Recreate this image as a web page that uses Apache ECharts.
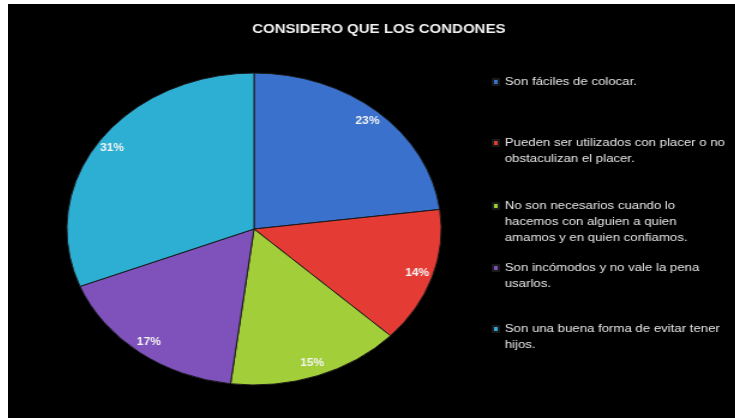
<!DOCTYPE html>
<html><head><meta charset="utf-8">
<script src="https://cdn.jsdelivr.net/npm/echarts@6/dist/echarts.min.js"></script>
<style>
html,body{margin:0;padding:0;background:#ffffff;width:735px;height:418px;overflow:hidden}
#wrap{position:absolute;left:8px;top:4px;width:606px;height:414px;transform:scaleX(1.2);transform-origin:0 0;}
#chart{width:606px;height:414px;}
</style></head><body><div id="wrap"><div id="chart"></div></div>
<script>
const chartTitle = 'CONSIDERO QUE LOS CONDONES';
const categories = [
  'Son fáciles de colocar.',
  'Pueden ser utilizados con placer o no obstaculizan el placer.',
  'No son necesarios cuando lo hacemos con alguien a quien amamos y en quien confiamos.',
  'Son incómodos y no vale la pena usarlos.',
  'Son una buena forma de evitar tener hijos.'
];
const values = [23, 14, 15, 17, 31];
const legendLines = [
  ['Son fáciles de colocar.'],
  ['Pueden ser utilizados con placer o no', 'obstaculizan el placer.'],
  ['No son necesarios cuando lo', 'hacemos con alguien a quien', 'amamos y en quien confiamos.'],
  ['Son incómodos y no vale la pena', 'usarlos.'],
  ['Son una buena forma de evitar tener', 'hijos.']
];
const colors = ['#3A71CC', '#E53B35', '#A2CE3A', '#7E51BB', '#2DAED3'];

// layout (pre-scale coordinates)
const legendLeft = 403;
const firstLineY = [78, 139, 202, 264, 325];
const lineH = 16;

const chart = echarts.init(document.getElementById('chart'));
const pieData = categories.map((n, i) => ({ name: n, value: values[i], itemStyle: { color: colors[i] } }));
const labelData = categories.map((n, i) => ({ name: n, value: values[i] }));

const legends = categories.map((n, i) => {
  const k = legendLines[i].length;
  return {
    data: [n],
    left: legendLeft,
    top: firstLineY[i] - (2 * k - 1) * lineH / 2,
    orient: 'vertical',
    icon: 'rect',
    itemWidth: 5,
    itemHeight: 6,
    itemGap: 5,
    padding: 0,
    selectedMode: false,
    formatter: () => new Array(k - 1).fill('').concat(legendLines[i]).join('\n'),
    textStyle: { color: '#e6e6e6', fontSize: 11, lineHeight: lineH, fontFamily: 'Liberation Sans' }
  };
});

chart.setOption({
  backgroundColor: '#000000',
  animation: false,
  title: {
    text: chartTitle,
    left: 304,
    textAlign: 'center',
    top: 14,
    textStyle: { color: '#f2f2f2', fontSize: 12.5, fontWeight: 'bold', fontFamily: 'Liberation Sans' }
  },
  legend: legends,
  series: [
    {
      type: 'pie',
      center: [205, 225],
      radius: [0, 156],
      startAngle: 90,
      clockwise: true,
      silent: true,
      label: { show: false },
      labelLine: { show: false },
      itemStyle: { borderColor: '#1a1a1a', borderWidth: 1 },
      data: pieData
    },
    {
      type: 'pie',
      center: [205, 225],
      radius: [124, 156],
      startAngle: 90,
      clockwise: true,
      silent: true,
      legendHoverLink: false,
      avoidLabelOverlap: false,
      itemStyle: { color: 'rgba(0,0,0,0)', borderWidth: 0 },
      label: {
        show: true, position: 'inside', formatter: '{c}%',
        color: '#f4f4f4', fontSize: 10, fontWeight: 'bold', fontFamily: 'Liberation Sans'
      },
      labelLine: { show: false },
      data: labelData
    }
  ]
});
</script></body></html>
